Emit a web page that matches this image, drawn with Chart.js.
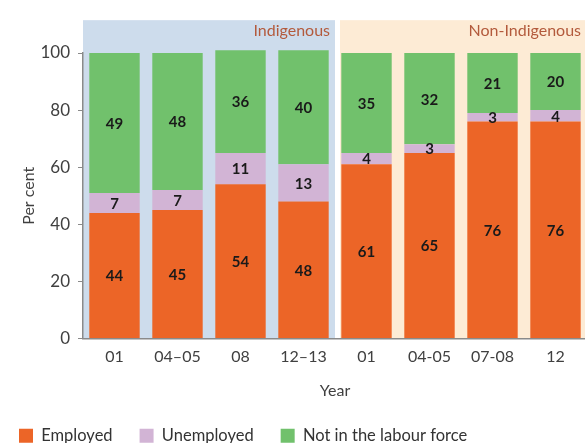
<!DOCTYPE html>
<html>
<head>
<meta charset="utf-8">
<script src="https://cdn.jsdelivr.net/npm/chart.js@4/dist/chart.umd.min.js"></script>
<style>
  html, body { margin: 0; padding: 0; background: #fff; overflow: hidden; }
  #wrap { position: absolute; left: -8px; top: 0; width: 598px; height: 454px; }
</style>
</head>
<body>
<div id="wrap"><canvas id="c"></canvas></div>
<script>
const years = ['01', '04\u201305', '08', '12\u201313', '01', '04-05', '07-08', '12'];
const employed = [44, 45, 54, 48, 61, 65, 76, 76];
const unemployed = [7, 7, 11, 13, 4, 3, 3, 4];
const notInLabourForce = [49, 48, 36, 40, 35, 32, 21, 20];
const groups = ['Indigenous', 'Non-Indigenous'];
const groupSize = 4;

const FONT = 'Lato, "Open Sans", sans-serif';

// background panels + group names behind the bars
const panelsPlugin = {
  id: 'panels',
  beforeDraw(chart) {
    const { ctx, chartArea } = chart;
    const x = chart.scales.x, y = chart.scales.y;
    const split = x.getPixelForValue(groupSize - 0.5);
    const top = y.getPixelForValue(111.5);
    const bottom = chartArea.bottom;
    ctx.save();
    ctx.fillStyle = '#cddcec';
    ctx.fillRect(chartArea.left, top, split - chartArea.left, bottom - top);
    ctx.fillStyle = '#fdebd5';
    ctx.fillRect(split + 5, top, chart.width - split - 5, bottom - top);
    ctx.fillStyle = '#b35a3c';
    ctx.font = '16px ' + FONT;
    ctx.textAlign = 'right';
    ctx.textBaseline = 'middle';
    ctx.fillText(groups[0], split - 5, top + 11);
    ctx.fillText(groups[1], 590 - 1, top + 11);
    ctx.restore();
  }
};

// numbers in the middle of each segment
const valueLabels = {
  id: 'valueLabels',
  afterDatasetsDraw(chart) {
    const { ctx } = chart;
    ctx.save();
    ctx.fillStyle = '#1a1a1a';
    ctx.font = 'bold 15px ' + FONT;
    ctx.textAlign = 'center';
    ctx.textBaseline = 'middle';
    chart.data.datasets.forEach((ds, i) => {
      const meta = chart.getDatasetMeta(i);
      meta.data.forEach((bar, j) => {
        const p = bar.getProps(['x', 'y', 'base'], true);
        ctx.fillText(ds.data[j], p.x, (p.y + p.base) / 2 + 1);
      });
    });
    ctx.restore();
  }
};

new Chart(document.getElementById('c'), {
  type: 'bar',
  data: {
    labels: years,
    datasets: [
      { label: 'Employed', data: employed, backgroundColor: '#ec6527', clip: false },
      { label: 'Unemployed', data: unemployed, backgroundColor: '#d2b4d5', clip: false },
      { label: 'Not in the labour force', data: notInLabourForce, backgroundColor: '#71c16c', clip: false }
    ]
  },
  options: {
    responsive: true,
    maintainAspectRatio: false,
    animation: false,
    barPercentage: 0.8,
    categoryPercentage: 1,
    layout: { padding: { top: 53, right: 3, left: 0, bottom: 0 } },
    plugins: {
      tooltip: { enabled: false },
      legend: {
        position: 'bottom',
        align: 'start',
        labels: {
          boxWidth: 14,
          boxHeight: 14,
          padding: 27,
          color: '#333',
          font: { family: FONT, size: 16.5 }
        }
      }
    },
    scales: {
      x: {
        stacked: true,
        grid: { display: false },
        border: { display: true, color: '#8a8a8a', width: 1.5 },
        ticks: { color: '#404040', font: { family: FONT, size: 16 }, padding: 1 },
        title: { display: true, text: 'Year', color: '#404040', font: { family: FONT, size: 16 }, padding: { top: 7, bottom: 0 } },
        afterFit(scale) { scale.height = 62; }
      },
      y: {
        stacked: true,
        min: 0,
        max: 100,
        ticks: { stepSize: 20, color: '#404040', font: { family: FONT, size: 17 }, padding: 8 },
        grid: { drawOnChartArea: false, drawTicks: true, tickLength: 5, color: '#8a8a8a' },
        border: { display: true, color: '#8a8a8a', width: 1.5 },
        title: { display: true, text: 'Per cent', color: '#404040', font: { family: FONT, size: 16 }, padding: { top: 27, bottom: 0 } },
        afterFit(scale) { scale.width = 91; }
      }
    }
  },
  plugins: [panelsPlugin, valueLabels]
});
</script>
</body>
</html>
